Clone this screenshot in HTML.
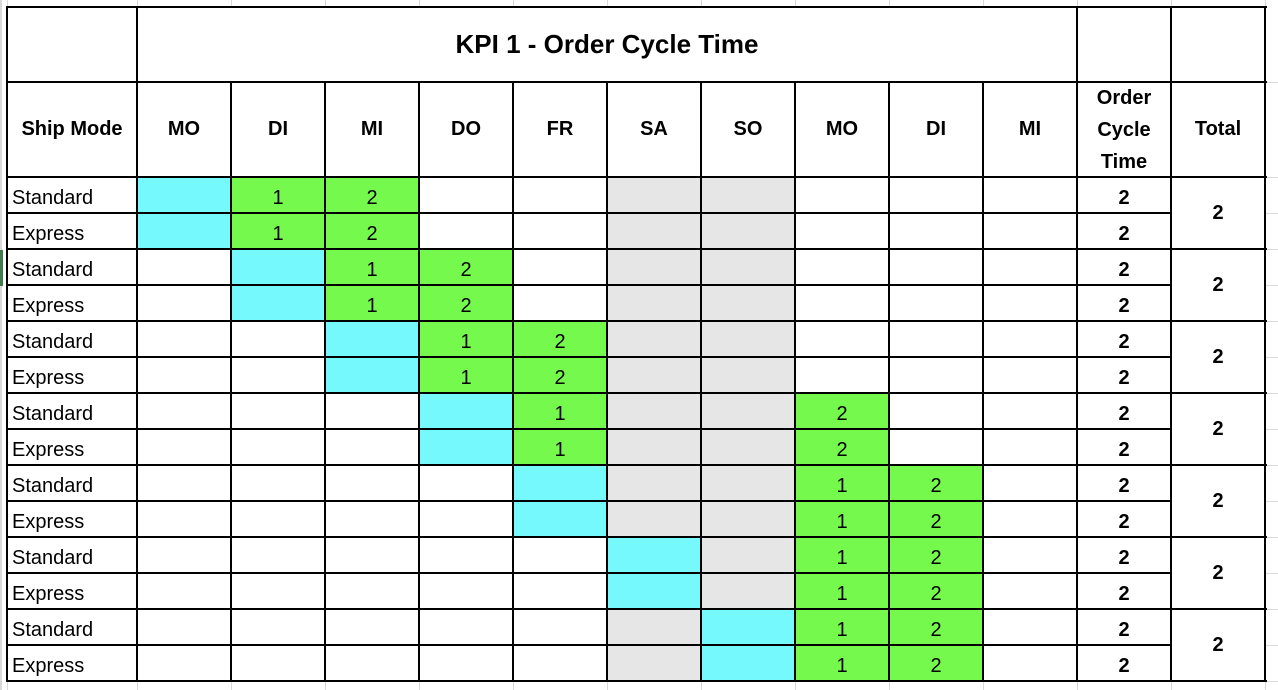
<!DOCTYPE html>
<html><head><meta charset="utf-8">
<style>
html,body{margin:0;padding:0;background:#fff;width:1278px;height:690px;overflow:hidden;font-family:"Liberation Sans",Arial,sans-serif;}
#sheet{position:relative;width:1278px;height:690px;}
.c{position:absolute;box-sizing:border-box;display:flex;align-items:center;justify-content:center;color:#000;}
.l{position:absolute;background:#000;}
.g{position:absolute;background:#d9d9d9;}
</style></head>
<body>
<div id="sheet"></div>
<script>
const colHeaders = ["MO","DI","MI","DO","FR","SA","SO","MO","DI","MI"];
const shipModes = ["Standard","Express"];
const cyanCols = [0,1,2,3,4,5,6];
const oneCols = [1,2,3,4,7,7,7];
const twoCols = [2,3,4,7,8,8,8];
const cycleTimes = [2,2,2,2,2,2,2];
const totals = [2,2,2,2,2,2,2];
const weekendCols = [5,6];

const X = [7,137,231,325,419,513,607,701,795,889,983,1077,1171,1265];
const Y0 = 7, Y1 = 82, Y2 = 177, RH = 36;
const S = document.getElementById('sheet');
function cell(x,y,w,h,txt,css){
  const d=document.createElement('div');d.className='c';
  d.style.left=x+'px';d.style.top=y+'px';d.style.width=w+'px';d.style.height=h+'px';
  if(css) d.style.cssText+=css;
  if(txt!==undefined) d.textContent=txt;
  S.appendChild(d);return d;
}
function line(x,y,w,h,cls){const d=document.createElement('div');d.className=cls||'l';
  d.style.left=x+'px';d.style.top=y+'px';d.style.width=w+'px';d.style.height=h+'px';S.appendChild(d);}
const nRows = cyanCols.length*2;
const Yend = Y2 + nRows*RH;
// background gridlines
for(let i=0;i<X.length;i++){line(X[i],0,1,Y0,'g');line(X[i],Yend,1,690-Yend,'g');}
line(0,0,1,690,'g');line(1,0,1,690,'g');
for(let r=0;r<=nRows;r++){line(X[13],Y2+r*RH,13,1,'g');}
line(X[13],Y1,13,1,'g');
line(0,250,3,36,'l');S.lastChild.style.background='#3f7a4f';

// title
let t=cell(X[1],Y0,X[11]-X[1],Y1-Y0,"KPI 1 - Order Cycle Time","font-weight:bold;font-size:26px;");

// headers
let h=cell(X[0],Y1,X[1]-X[0],Y2-Y1,"Ship Mode","font-weight:bold;font-size:20px;");

colHeaders.forEach((c,i)=>{
  const d=cell(X[i+1],Y1,X[i+2]-X[i+1],Y2-Y1,c,"font-weight:bold;font-size:20px;");
  
  
});
h=cell(X[11],Y1,X[12]-X[11],Y2-Y1,"Order Cycle Time","font-weight:bold;font-size:20px;text-align:center;line-height:32px;padding:0 8px;");

h=cell(X[12],Y1,X[13]-X[12],Y2-Y1,"Total","font-weight:bold;font-size:20px;");


// body
for(let k=0;k<cyanCols.length;k++){
  for(let s=0;s<2;s++){
    const y=Y2+(2*k+s)*RH;
    const m=cell(X[0],y,X[1]-X[0],RH,shipModes[s],"justify-content:flex-start;padding-left:5px;font-size:20px;padding-top:6px;");
    
    
    for(let c=0;c<10;c++){
      let bg='#fff',txt='';
      if(c===cyanCols[k]) bg='#75f9fd';
      else if(c===oneCols[k]){bg='#75f94d';txt='1';}
      else if(c===twoCols[k]){bg='#75f94d';txt='2';}
      else if(weekendCols.includes(c)) bg='#e6e6e6';
      const d=cell(X[c+1],y,X[c+2]-X[c+1],RH,txt,"background:"+bg+";font-size:20px;padding-top:6px;");
      
      
    }
    const o=cell(X[11],y,X[12]-X[11],RH,String(cycleTimes[k]),"font-weight:bold;font-size:20px;padding-top:6px;");
    
    
  }
  const tt=cell(X[12],Y2+2*k*RH,X[13]-X[12],2*RH,String(totals[k]),"font-weight:bold;font-size:20px;");
  
  
}
// borders
line(X[0],Y0-1,X[13]-X[0]+2,2);
line(X[0],Y1-1,X[13]-X[0]+2,2);
for(let r=0;r<=nRows;r++){
  const y=Y2+r*RH-1;
  if(r%2===1) line(X[0],y,X[12]-X[0],2); else line(X[0],y,X[13]-X[0]+2,2);
}
for(let i=0;i<X.length;i++){
  const top=[0,1,11,12,13].includes(i)?Y0-1:Y1-1;
  line(X[i]-1,top,2,Yend-top+1);
}
</script>
</body></html>
